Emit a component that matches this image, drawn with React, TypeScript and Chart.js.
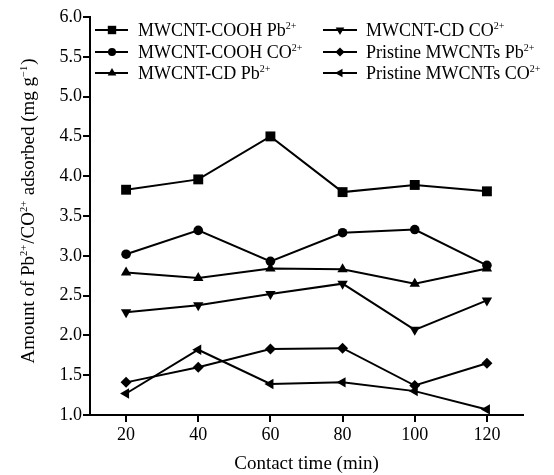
import React, { useEffect, useRef } from "react";
import { Chart, registerables } from "chart.js";

Chart.register(...registerables);

// ---------- data ----------
const contactTime = [20, 40, 60, 80, 100, 120];
const xTickValues = [20, 40, 60, 80, 100, 120];
const yTickStep = 0.5;
const yMin = 1.0;
const yMax = 6.0;
const xMin = 10;
const xMax = 130;

const coohPb = [3.83, 3.96, 4.5, 3.8, 3.89, 3.81];
const coohCo = [3.02, 3.32, 2.93, 3.29, 3.33, 2.88];
const cdPb = [2.79, 2.72, 2.84, 2.83, 2.65, 2.84];
const cdCo = [2.29, 2.38, 2.52, 2.65, 2.07, 2.44];
const pristinePb = [1.41, 1.6, 1.83, 1.84, 1.37, 1.65];
const pristineCo = [1.27, 1.82, 1.39, 1.41, 1.3, 1.07];

const seriesLabels = [
  "MWCNT-COOH Pb^{2+}",
  "MWCNT-COOH CO^{2+}",
  "MWCNT-CD Pb^{2+}",
  "MWCNT-CD CO^{2+}",
  "Pristine MWCNTs Pb^{2+}",
  "Pristine MWCNTs CO^{2+}",
];
const seriesValues = [coohPb, coohCo, cdPb, cdCo, pristinePb, pristineCo];

const xTitle = "Contact time (min)";
const yTitle = "Amount of Pb^{2+}/CO^{2+} adsorbed (mg g^{\u22121})";

// ---------- styles ----------
const FONT = "'Liberation Serif', 'Times New Roman', serif";
const markerStyles = ["rect", "circle", "triangle", "triangle", "rectRot", "triangle"];
const markerRotations = [0, 0, 0, 180, 0, 270];
const markerRadii = [7, 4.8, 6, 6, 5.5, 6];
const legendRadii = [4.2, 4, 5, 5, 4.6, 5];

function parseRich(text: string) {
  const segs: { t: string; sup: boolean }[] = [];
  const re = /\^\{([^}]*)\}/g;
  let last = 0;
  let m: RegExpExecArray | null;
  while ((m = re.exec(text))) {
    if (m.index > last) segs.push({ t: text.slice(last, m.index), sup: false });
    segs.push({ t: m[1], sup: true });
    last = m.index + m[0].length;
  }
  if (last < text.length) segs.push({ t: text.slice(last), sup: false });
  return segs;
}

function plainText(text: string) {
  return text.replace(/\^\{([^}]*)\}/g, "$1");
}

function richWidth(ctx: CanvasRenderingContext2D, segs: any[], size: number, supSize: number) {
  let w = 0;
  for (const s of segs) {
    ctx.font = `${s.sup ? supSize : size}px ${FONT}`;
    w += ctx.measureText(s.t).width + (s.sup ? 1 : 0);
  }
  return w;
}

function drawRich(
  ctx: CanvasRenderingContext2D,
  segs: any[],
  x: number,
  baseline: number,
  size: number,
  supSize: number,
  raise: number
) {
  ctx.textAlign = "left";
  ctx.textBaseline = "alphabetic";
  let cx = x;
  for (const s of segs) {
    ctx.font = `${s.sup ? supSize : size}px ${FONT}`;
    ctx.fillText(s.t, cx, s.sup ? baseline - raise : baseline);
    cx += ctx.measureText(s.t).width + (s.sup ? 1 : 0);
  }
}

function drawMarker(
  ctx: CanvasRenderingContext2D,
  style: string,
  rot: number,
  x: number,
  y: number,
  r: number
) {
  ctx.save();
  ctx.translate(x, y);
  ctx.rotate((rot * Math.PI) / 180);
  ctx.beginPath();
  if (style === "rect") {
    ctx.rect(-r, -r, 2 * r, 2 * r);
  } else if (style === "circle") {
    ctx.arc(0, 0, r, 0, Math.PI * 2);
  } else if (style === "triangle") {
    ctx.moveTo(0, -r);
    ctx.lineTo(r * 0.866, r * 0.5);
    ctx.lineTo(-r * 0.866, r * 0.5);
    ctx.closePath();
  } else {
    ctx.moveTo(0, -r);
    ctx.lineTo(r, 0);
    ctx.lineTo(0, r);
    ctx.lineTo(-r, 0);
    ctx.closePath();
  }
  ctx.fillStyle = "#000";
  ctx.fill();
  ctx.restore();
}

const customText = {
  id: "customText",
  afterDraw(chart: any) {
    const ctx: CanvasRenderingContext2D = chart.ctx;
    ctx.save();
    ctx.fillStyle = "#000";
    // legend
    const cols = [
      { l1: 95, l2: 128, mx: 112, tx: 138 },
      { l1: 323, l2: 357, mx: 340, tx: 366 },
    ];
    const rows = [30, 52, 73];
    seriesLabels.forEach((lab, i) => {
      const c = cols[Math.floor(i / 3)];
      const y = rows[i % 3];
      ctx.strokeStyle = "#000";
      ctx.lineWidth = 2;
      ctx.beginPath();
      ctx.moveTo(c.l1, y);
      ctx.lineTo(c.l2, y);
      ctx.stroke();
      drawMarker(ctx, markerStyles[i], markerRotations[i], c.mx, y, legendRadii[i]);
      ctx.fillStyle = "#000";
      drawRich(ctx, parseRich(lab), c.tx, y + 6, 18, 10, 7);
    });
    // y title
    const segs = parseRich(yTitle);
    const w = richWidth(ctx, segs, 19, 10.5);
    ctx.translate(34, 211);
    ctx.rotate(-Math.PI / 2);
    ctx.fillStyle = "#000";
    drawRich(ctx, segs, -w / 2, 0, 19, 10.5, 7.5);
    ctx.restore();
  },
};

export default function App() {
  const ref = useRef<HTMLCanvasElement | null>(null);
  useEffect(() => {
    if (!ref.current) return;
    const datasets = seriesValues.map((vals, i) => ({
      label: plainText(seriesLabels[i]),
      data: contactTime.map((x, j) => ({ x, y: vals[j] })),
      borderColor: "#000",
      backgroundColor: "#000",
      borderWidth: 2,
      pointStyle: markerStyles[i],
      rotation: markerRotations[i],
      pointRotation: markerRotations[i],
      pointRadius: markerRadii[i],
      pointBorderWidth: 0,
      pointBackgroundColor: "#000",
      tension: 0,
      fill: false,
    }));
    const chart = new Chart(ref.current, {
      type: "line",
      data: { datasets },
      plugins: [customText],
      options: {
        animation: false,
        responsive: false,
        devicePixelRatio: 1,
        layout: { padding: { top: 17, right: 31, left: 0, bottom: 0 } },
        plugins: { legend: { display: false }, tooltip: { enabled: false } },
        scales: {
          x: {
            type: "linear",
            min: xMin,
            max: xMax,
            afterBuildTicks: (axis: any) => {
              axis.ticks = xTickValues.map((v) => ({ value: v }));
            },
            afterFit: (scale: any) => {
              scale.height = 60;
            },
            ticks: {
              color: "#000",
              font: { family: FONT, size: 18 },
              padding: 2,
              maxRotation: 0,
              autoSkip: false,
              callback: (v: any) => String(v),
            },
            grid: {
              display: true,
              drawOnChartArea: false,
              drawTicks: true,
              tickLength: 7,
              color: "#000",
              lineWidth: 2,
            },
            border: { display: true, color: "#000", width: 2 },
            title: {
              display: true,
              text: xTitle,
              color: "#000",
              font: { family: FONT, size: 19 },
              padding: { top: 0, bottom: 0 },
            },
          },
          y: {
            type: "linear",
            min: yMin,
            max: yMax,
            afterFit: (scale: any) => {
              scale.width = 90;
            },
            ticks: {
              stepSize: yTickStep,
              color: "#000",
              font: { family: FONT, size: 18 },
              padding: 1,
              callback: (v: any) => Number(v).toFixed(1),
            },
            grid: {
              display: true,
              drawOnChartArea: false,
              drawTicks: true,
              tickLength: 7,
              color: "#000",
              lineWidth: 2,
            },
            border: { display: true, color: "#000", width: 2 },
          },
        },
      } as any,
    });
    return () => chart.destroy();
  }, []);
  return (
    <div style={{ position: "absolute", left: 0, top: 0, width: 554, height: 475, background: "#fff" }}>
      <canvas ref={ref} width={554} height={475} style={{ display: "block" }} />
    </div>
  );
}
